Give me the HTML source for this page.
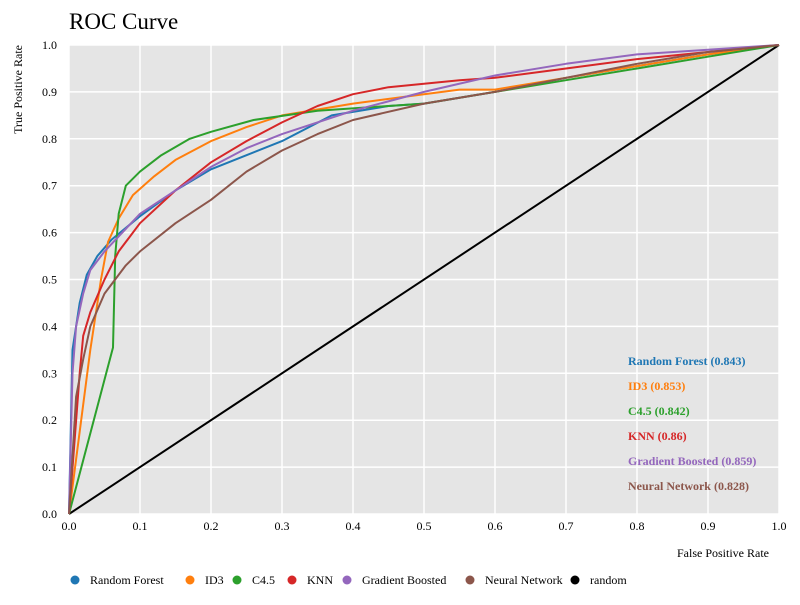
<!DOCTYPE html>
<html><head><meta charset="utf-8"><style>
body{margin:0;background:#fff;width:800px;height:600px;overflow:hidden;font-family:"Liberation Serif",serif}
</style></head><body>
<svg id="chart" width="800" height="600" xmlns="http://www.w3.org/2000/svg" font-family="Liberation Serif, serif"></svg>
<script>
const seriesNames=["Random Forest","ID3","C4.5","KNN","Gradient Boosted","Neural Network"];
const seriesAUC=["0.843","0.853","0.842","0.86","0.859","0.828"];
const seriesColors=["#1f77b4","#ff7f0e","#2ca02c","#d62728","#9467bd","#8c564b"];
const rfFpr=[0,0.005,0.015,0.025,0.04,0.06,0.08,0.1,0.15,0.2,0.25,0.3,0.37,0.45,0.5,0.6,0.7,0.8,0.9,1];
const rfTpr=[0,0.35,0.45,0.51,0.55,0.585,0.61,0.635,0.69,0.735,0.765,0.795,0.85,0.87,0.875,0.9,0.93,0.955,0.98,1];
const id3Fpr=[0,0.03,0.045,0.055,0.07,0.09,0.12,0.15,0.2,0.25,0.3,0.4,0.5,0.55,0.6,0.7,0.8,0.9,1];
const id3Tpr=[0,0.35,0.5,0.58,0.63,0.68,0.72,0.755,0.795,0.825,0.85,0.875,0.895,0.905,0.905,0.93,0.955,0.98,1];
const c45Fpr=[0,0.062,0.065,0.07,0.08,0.1,0.13,0.17,0.2,0.26,0.35,0.5,0.6,0.7,0.8,0.9,1];
const c45Tpr=[0,0.355,0.55,0.64,0.7,0.73,0.765,0.8,0.815,0.84,0.86,0.875,0.9,0.925,0.95,0.975,1];
const knnFpr=[0,0.015,0.02,0.03,0.05,0.07,0.1,0.15,0.2,0.25,0.3,0.35,0.4,0.45,0.55,0.6,0.7,0.8,0.9,1];
const knnTpr=[0,0.3,0.38,0.43,0.5,0.56,0.62,0.69,0.75,0.795,0.835,0.87,0.895,0.91,0.925,0.93,0.95,0.97,0.985,1];
const gbFpr=[0,0.005,0.01,0.02,0.03,0.05,0.1,0.15,0.2,0.25,0.3,0.4,0.5,0.6,0.7,0.8,0.9,1];
const gbTpr=[0,0.3,0.4,0.47,0.52,0.56,0.64,0.69,0.74,0.78,0.81,0.86,0.9,0.935,0.96,0.98,0.99,1];
const nnFpr=[0,0.01,0.02,0.03,0.05,0.08,0.1,0.15,0.2,0.25,0.3,0.35,0.4,0.5,0.6,0.7,0.8,0.9,1];
const nnTpr=[0,0.25,0.33,0.4,0.47,0.53,0.56,0.62,0.67,0.73,0.775,0.81,0.84,0.875,0.9,0.93,0.96,0.985,1];
const xTicks=[0,0.1,0.2,0.3,0.4,0.5,0.6,0.7,0.8,0.9,1];
const yTicks=[0,0.1,0.2,0.3,0.4,0.5,0.6,0.7,0.8,0.9,1];

const fprs=[rfFpr,id3Fpr,c45Fpr,knnFpr,gbFpr,nnFpr];
const tprs=[rfTpr,id3Tpr,c45Tpr,knnTpr,gbTpr,nnTpr];
const L=69,R=779,T=45,B=514;
const sx=v=>L+v*(R-L), sy=v=>B-v*(B-T);
const svg=document.getElementById('chart');
const NS="http://www.w3.org/2000/svg";
function mk(tag,attrs,parent){const e=document.createElementNS(NS,tag);for(const k in attrs)e.setAttribute(k,attrs[k]);(parent||svg).appendChild(e);return e;}

const t=mk('text',{x:69,y:29,'font-size':23,fill:'#000'});t.textContent='ROC Curve';


const bg=mk('rect',{x:L,y:T,width:R-L,height:B-T,fill:'#e5e5e5'});


xTicks.forEach(v=>{
  const g=mk('line',{x1:sx(v),x2:sx(v),y1:T,y2:B,stroke:'#fff','stroke-width':1.5});
  
  
  const tx=mk('text',{x:sx(v),y:B+16,'font-size':12,'text-anchor':'middle'});tx.textContent=v.toFixed(1);
  
  
});
yTicks.forEach(v=>{
  const g=mk('line',{x1:L,x2:R,y1:sy(v),y2:sy(v),stroke:'#fff','stroke-width':1.5});
  
  
  const tx=mk('text',{x:L-12,y:sy(v)+4,'font-size':12,'text-anchor':'end'});tx.textContent=v.toFixed(1);
  
  
});
const xt=mk('text',{x:R-10,y:B+43,'font-size':12,'text-anchor':'end'});xt.textContent='False Positive Rate';


const yt=mk('text',{x:0,y:0,'font-size':12,'text-anchor':'end',transform:'translate(22,45) rotate(-90)'});yt.textContent='True Positive Rate';



const rl=mk('line',{x1:sx(0),y1:sy(0),x2:sx(1),y2:sy(1),stroke:'#000','stroke-width':2});


seriesNames.forEach((n,i)=>{
  const d=fprs[i].map((f,j)=>(j?'L':'M')+sx(f).toFixed(1)+','+sy(tprs[i][j]).toFixed(1)).join('');
  const p=mk('path',{d:d,fill:'none',stroke:seriesColors[i],'stroke-width':2,'stroke-linejoin':'round'});
  
  
  const a=mk('text',{x:628,y:365+i*25,'font-size':12,'font-weight':'bold',fill:seriesColors[i]});
  a.textContent=n+' ('+seriesAUC[i]+')';
  
  
});
const legX=[75,190,237,292,347,470,575];
const legNames=seriesNames.concat(['random']);
const legColors=seriesColors.concat(['#000']);
legNames.forEach((n,i)=>{
  const g=mk('g',{});
  
  
  mk('circle',{cx:legX[i],cy:580,r:4.5,fill:legColors[i]},g);
  const tx=mk('text',{x:legX[i]+15,y:584,'font-size':12},g);tx.textContent=n;
});
</script>
</body></html>
